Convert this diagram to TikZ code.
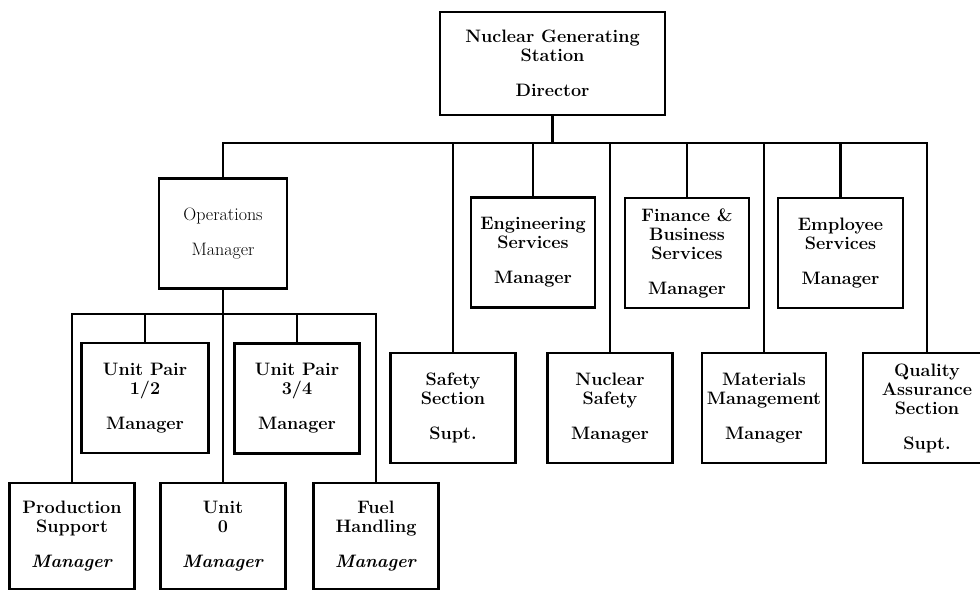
\documentclass[tikz,border=0pt]{standalone}
\usepackage{fontspec}
\usetikzlibrary{positioning}
\begin{document}
\begin{tikzpicture}[x=1pt, y=-1pt, line width=2.8pt,
    font=\fontsize{18}{19}\selectfont\bfseries,
    caixa/.style={draw, line width=2.8pt, align=center, inner sep=1pt,
      minimum width=125pt, minimum height=110pt},
    caixabaixo/.style={caixa, minimum height=106pt}]
  \useasboundingbox (0,0) rectangle (980,590);
  \clip (0,0) rectangle (980,590);
  % coordenadas em pixels da folha original (y para baixo)
  \node[caixa, minimum width=225pt, minimum height=103pt] (dir) at (552.5,63.5)
    {Nuclear Generating\\Station\\[16pt]Director};
  \node[caixa, minimum width=128pt, font=\fontsize{18}{19}\selectfont] (ops) at (223,233.5)
    {Operations\\[16pt]Manager};
  \node[caixa, minimum width=124pt] (eng) at (533,252.5) {Engineering\\Services\\[16pt]Manager};
  \node[caixa, minimum width=124pt] (fin) at (687,253) {Finance \&\\Business\\Services\\[16pt]Manager};
  \node[caixa] (emp) at (840.5,253) {Employee\\Services\\[16pt]Manager};
  \node[caixa] (safsec) at (453,408) {Safety\\Section\\[16pt]Supt.};
  \node[caixa] (nucsaf) at (610,408) {Nuclear\\Safety\\[16pt]Manager};
  \node[caixa, minimum width=124pt] (mat) at (764,408) {Materials\\Management\\[16pt]Manager};
  \node[caixa, minimum width=128pt] (qa) at (927,408) {Quality\\Assurance\\Section\\[16pt]Supt.};
  \node[caixa, minimum width=127pt] (up12) at (145,398) {Unit Pair\\1/2\\[16pt]Manager};
  \node[caixa] (up34) at (297,398.5) {Unit Pair\\3/4\\[16pt]Manager};
  \node[caixabaixo] (prod) at (72,536) {Production\\Support\\[16pt]\textit{Manager}};
  \node[caixabaixo] (unit0) at (223,536) {Unit\\0\\[16pt]\textit{Manager}};
  \node[caixabaixo] (fuel) at (376,536) {Fuel\\Handling\\[16pt]\textit{Manager}};

  \coordinate (bus) at (552,143);
  \draw (dir.south) -- (dir.south |- bus);
  \draw (ops.north) |- (qa.north |- bus) -- (qa.north);
  \foreach \nm in {safsec,eng,nucsaf,fin,mat,emp}
    \draw (\nm.north) -- (\nm.north |- bus);
  \coordinate (opsbus) at (223,314);
  \draw (ops.south) -- (ops.south |- opsbus);
  \draw (prod.north) |- (fuel.north |- opsbus) -- (fuel.north);
  \foreach \nm in {up12,unit0,up34}
    \draw (\nm.north) -- (\nm.north |- opsbus);
\end{tikzpicture}
\end{document}
